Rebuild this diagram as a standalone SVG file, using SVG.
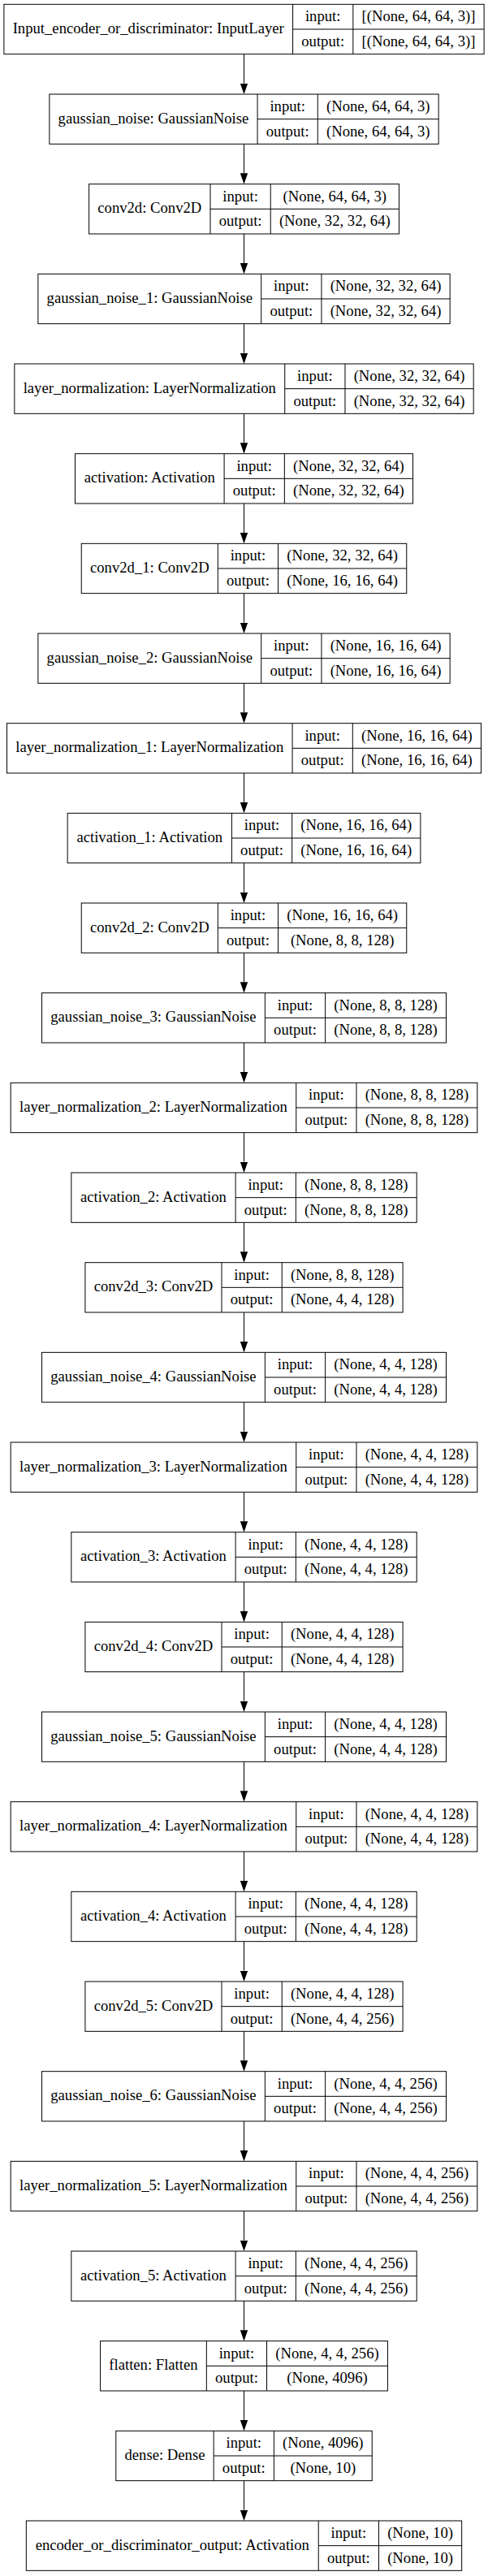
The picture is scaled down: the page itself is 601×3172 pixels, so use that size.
<svg xmlns="http://www.w3.org/2000/svg" width="601" height="3172" viewBox="0 0 601 3172">
<style>
.b rect{fill:#fff;stroke:#000;stroke-width:1}
.b path{fill:none;stroke:#000;stroke-width:1}
.b text{font-family:"Liberation Serif","Times New Roman",serif;font-size:18.67px;text-anchor:middle;fill:#000}
.b .l{transform:translateY(35.6px)}
#edges path{fill:none;stroke:#000;stroke-width:1;marker-end:url(#ah)}
</style>
<defs>
<marker id="ah" markerUnits="userSpaceOnUse" markerWidth="13.33" markerHeight="9.34" viewBox="0 0 13.33 9.34" refX="0" refY="4.67" orient="auto">
<path d="M0,0 L13.33,4.67 L0,9.34 Z" fill="#000"/>
</marker>
</defs>
<rect width="601" height="3172" fill="#fff"/>

<g id="edges">
<path d="M300.5,66.66V102.67"/>
<path d="M300.5,177.33V213.34"/>
<path d="M300.5,288V324"/>
<path d="M300.5,398.66V434.67"/>
<path d="M300.5,509.33V545.34"/>
<path d="M300.5,620V656"/>
<path d="M300.5,730.66V766.67"/>
<path d="M300.5,841.33V877.34"/>
<path d="M300.5,952V988"/>
<path d="M300.5,1062.66V1098.67"/>
<path d="M300.5,1173.33V1209.34"/>
<path d="M300.5,1284V1320"/>
<path d="M300.5,1394.66V1430.67"/>
<path d="M300.5,1505.33V1541.34"/>
<path d="M300.5,1616V1652"/>
<path d="M300.5,1726.66V1762.67"/>
<path d="M300.5,1837.33V1873.34"/>
<path d="M300.5,1948V1984"/>
<path d="M300.5,2058.66V2094.67"/>
<path d="M300.5,2169.33V2205.34"/>
<path d="M300.5,2280V2316"/>
<path d="M300.5,2390.66V2426.67"/>
<path d="M300.5,2501.33V2537.34"/>
<path d="M300.5,2612V2648"/>
<path d="M300.5,2722.66V2758.67"/>
<path d="M300.5,2833.33V2869.34"/>
<path d="M300.5,2944V2980"/>
<path d="M300.5,3054.66V3090.67"/>
</g>

<g id="node0" class="b" transform="translate(0,5.33)">
<rect x="4.88" y="0" width="591.24" height="61.33"/>
<path d="M360.59,0V61.33M434.82,0V61.33M360.59,30.67H596.12"/>
<text x="182.74" y="35.6">Input_encoder_or_discriminator: InputLayer</text>
<text x="397.71" y="21">input:</text><text x="397.71" y="51.8">output:</text>
<text x="515.47" y="21">[(None, 64, 64, 3)]</text><text x="515.47" y="51.8">[(None, 64, 64, 3)]</text>
</g>

<g id="node1" class="b" transform="translate(0,116)">
<rect x="60.86" y="0" width="479.28" height="61.33"/>
<path d="M317.05,0V61.33M391.28,0V61.33M317.05,30.67H540.14"/>
<text x="188.96" y="35.6">gaussian_noise: GaussianNoise</text>
<text x="354.17" y="21">input:</text><text x="354.17" y="51.8">output:</text>
<text x="465.71" y="21">(None, 64, 64, 3)</text><text x="465.71" y="51.8">(None, 64, 64, 3)</text>
</g>

<g id="node2" class="b" transform="translate(0,226.67)">
<rect x="109.59" y="0" width="381.83" height="61.33"/>
<path d="M258.99,0V61.33M333.22,0V61.33M258.99,30.67H491.42"/>
<text x="184.29" y="35.6">conv2d: Conv2D</text>
<text x="296.11" y="21">input:</text><text x="296.11" y="51.8">output:</text>
<text x="412.32" y="21">(None, 64, 64, 3)</text><text x="412.32" y="51.8">(None, 32, 32, 64)</text>
</g>

<g id="node3" class="b" transform="translate(0,337.33)">
<rect x="46.86" y="0" width="507.29" height="61.33"/>
<path d="M321.72,0V61.33M395.95,0V61.33M321.72,30.67H554.15"/>
<text x="184.29" y="35.6">gaussian_noise_1: GaussianNoise</text>
<text x="358.84" y="21">input:</text><text x="358.84" y="51.8">output:</text>
<text x="475.05" y="21">(None, 32, 32, 64)</text><text x="475.05" y="51.8">(None, 32, 32, 64)</text>
</g>

<g id="node4" class="b" transform="translate(0,448)">
<rect x="17.84" y="0" width="565.33" height="61.33"/>
<path d="M350.74,0V61.33M424.97,0V61.33M350.74,30.67H583.17"/>
<text x="184.29" y="35.6">layer_normalization: LayerNormalization</text>
<text x="387.86" y="21">input:</text><text x="387.86" y="51.8">output:</text>
<text x="504.07" y="21">(None, 32, 32, 64)</text><text x="504.07" y="51.8">(None, 32, 32, 64)</text>
</g>

<g id="node5" class="b" transform="translate(0,558.67)">
<rect x="92.48" y="0" width="416.05" height="61.33"/>
<path d="M276.1,0V61.33M350.33,0V61.33M276.1,30.67H508.53"/>
<text x="184.29" y="35.6">activation: Activation</text>
<text x="313.22" y="21">input:</text><text x="313.22" y="51.8">output:</text>
<text x="429.43" y="21">(None, 32, 32, 64)</text><text x="429.43" y="51.8">(None, 32, 32, 64)</text>
</g>

<g id="node6" class="b" transform="translate(0,669.33)">
<rect x="100.25" y="0" width="400.5" height="61.33"/>
<path d="M268.32,0V61.33M342.55,0V61.33M268.32,30.67H500.75"/>
<text x="184.29" y="35.6">conv2d_1: Conv2D</text>
<text x="305.44" y="21">input:</text><text x="305.44" y="51.8">output:</text>
<text x="421.65" y="21">(None, 32, 32, 64)</text><text x="421.65" y="51.8">(None, 16, 16, 64)</text>
</g>

<g id="node7" class="b" transform="translate(0,780)">
<rect x="46.86" y="0" width="507.29" height="61.33"/>
<path d="M321.72,0V61.33M395.95,0V61.33M321.72,30.67H554.15"/>
<text x="184.29" y="35.6">gaussian_noise_2: GaussianNoise</text>
<text x="358.84" y="21">input:</text><text x="358.84" y="51.8">output:</text>
<text x="475.05" y="21">(None, 16, 16, 64)</text><text x="475.05" y="51.8">(None, 16, 16, 64)</text>
</g>

<g id="node8" class="b" transform="translate(0,890.67)">
<rect x="8.51" y="0" width="583.99" height="61.33"/>
<path d="M360.07,0V61.33M434.3,0V61.33M360.07,30.67H592.5"/>
<text x="184.29" y="35.6">layer_normalization_1: LayerNormalization</text>
<text x="397.19" y="21">input:</text><text x="397.19" y="51.8">output:</text>
<text x="513.4" y="21">(None, 16, 16, 64)</text><text x="513.4" y="51.8">(None, 16, 16, 64)</text>
</g>

<g id="node9" class="b" transform="translate(0,1001.33)">
<rect x="83.15" y="0" width="434.71" height="61.33"/>
<path d="M285.43,0V61.33M359.66,0V61.33M285.43,30.67H517.86"/>
<text x="184.29" y="35.6">activation_1: Activation</text>
<text x="322.55" y="21">input:</text><text x="322.55" y="51.8">output:</text>
<text x="438.76" y="21">(None, 16, 16, 64)</text><text x="438.76" y="51.8">(None, 16, 16, 64)</text>
</g>

<g id="node10" class="b" transform="translate(0,1112)">
<rect x="100.25" y="0" width="400.5" height="61.33"/>
<path d="M268.32,0V61.33M342.55,0V61.33M268.32,30.67H500.75"/>
<text x="184.29" y="35.6">conv2d_2: Conv2D</text>
<text x="305.44" y="21">input:</text><text x="305.44" y="51.8">output:</text>
<text x="421.65" y="21">(None, 16, 16, 64)</text><text x="421.65" y="51.8">(None, 8, 8, 128)</text>
</g>

<g id="node11" class="b" transform="translate(0,1222.67)">
<rect x="51.53" y="0" width="497.95" height="61.33"/>
<path d="M326.39,0V61.33M400.62,0V61.33M326.39,30.67H549.48"/>
<text x="188.96" y="35.6">gaussian_noise_3: GaussianNoise</text>
<text x="363.51" y="21">input:</text><text x="363.51" y="51.8">output:</text>
<text x="475.05" y="21">(None, 8, 8, 128)</text><text x="475.05" y="51.8">(None, 8, 8, 128)</text>
</g>

<g id="node12" class="b" transform="translate(0,1333.33)">
<rect x="13.18" y="0" width="574.65" height="61.33"/>
<path d="M364.74,0V61.33M438.97,0V61.33M364.74,30.67H587.83"/>
<text x="188.96" y="35.6">layer_normalization_2: LayerNormalization</text>
<text x="401.86" y="21">input:</text><text x="401.86" y="51.8">output:</text>
<text x="513.4" y="21">(None, 8, 8, 128)</text><text x="513.4" y="51.8">(None, 8, 8, 128)</text>
</g>

<g id="node13" class="b" transform="translate(0,1444)">
<rect x="87.82" y="0" width="425.37" height="61.33"/>
<path d="M290.1,0V61.33M364.33,0V61.33M290.1,30.67H513.19"/>
<text x="188.96" y="35.6">activation_2: Activation</text>
<text x="327.22" y="21">input:</text><text x="327.22" y="51.8">output:</text>
<text x="438.76" y="21">(None, 8, 8, 128)</text><text x="438.76" y="51.8">(None, 8, 8, 128)</text>
</g>

<g id="node14" class="b" transform="translate(0,1554.67)">
<rect x="104.92" y="0" width="391.16" height="61.33"/>
<path d="M272.99,0V61.33M347.22,0V61.33M272.99,30.67H496.08"/>
<text x="188.96" y="35.6">conv2d_3: Conv2D</text>
<text x="310.11" y="21">input:</text><text x="310.11" y="51.8">output:</text>
<text x="421.65" y="21">(None, 8, 8, 128)</text><text x="421.65" y="51.8">(None, 4, 4, 128)</text>
</g>

<g id="node15" class="b" transform="translate(0,1665.33)">
<rect x="51.53" y="0" width="497.95" height="61.33"/>
<path d="M326.39,0V61.33M400.62,0V61.33M326.39,30.67H549.48"/>
<text x="188.96" y="35.6">gaussian_noise_4: GaussianNoise</text>
<text x="363.51" y="21">input:</text><text x="363.51" y="51.8">output:</text>
<text x="475.05" y="21">(None, 4, 4, 128)</text><text x="475.05" y="51.8">(None, 4, 4, 128)</text>
</g>

<g id="node16" class="b" transform="translate(0,1776)">
<rect x="13.18" y="0" width="574.65" height="61.33"/>
<path d="M364.74,0V61.33M438.97,0V61.33M364.74,30.67H587.83"/>
<text x="188.96" y="35.6">layer_normalization_3: LayerNormalization</text>
<text x="401.86" y="21">input:</text><text x="401.86" y="51.8">output:</text>
<text x="513.4" y="21">(None, 4, 4, 128)</text><text x="513.4" y="51.8">(None, 4, 4, 128)</text>
</g>

<g id="node17" class="b" transform="translate(0,1886.67)">
<rect x="87.82" y="0" width="425.37" height="61.33"/>
<path d="M290.1,0V61.33M364.33,0V61.33M290.1,30.67H513.19"/>
<text x="188.96" y="35.6">activation_3: Activation</text>
<text x="327.22" y="21">input:</text><text x="327.22" y="51.8">output:</text>
<text x="438.76" y="21">(None, 4, 4, 128)</text><text x="438.76" y="51.8">(None, 4, 4, 128)</text>
</g>

<g id="node18" class="b" transform="translate(0,1997.33)">
<rect x="104.92" y="0" width="391.16" height="61.33"/>
<path d="M272.99,0V61.33M347.22,0V61.33M272.99,30.67H496.08"/>
<text x="188.96" y="35.6">conv2d_4: Conv2D</text>
<text x="310.11" y="21">input:</text><text x="310.11" y="51.8">output:</text>
<text x="421.65" y="21">(None, 4, 4, 128)</text><text x="421.65" y="51.8">(None, 4, 4, 128)</text>
</g>

<g id="node19" class="b" transform="translate(0,2108)">
<rect x="51.53" y="0" width="497.95" height="61.33"/>
<path d="M326.39,0V61.33M400.62,0V61.33M326.39,30.67H549.48"/>
<text x="188.96" y="35.6">gaussian_noise_5: GaussianNoise</text>
<text x="363.51" y="21">input:</text><text x="363.51" y="51.8">output:</text>
<text x="475.05" y="21">(None, 4, 4, 128)</text><text x="475.05" y="51.8">(None, 4, 4, 128)</text>
</g>

<g id="node20" class="b" transform="translate(0,2218.67)">
<rect x="13.18" y="0" width="574.65" height="61.33"/>
<path d="M364.74,0V61.33M438.97,0V61.33M364.74,30.67H587.83"/>
<text x="188.96" y="35.6">layer_normalization_4: LayerNormalization</text>
<text x="401.86" y="21">input:</text><text x="401.86" y="51.8">output:</text>
<text x="513.4" y="21">(None, 4, 4, 128)</text><text x="513.4" y="51.8">(None, 4, 4, 128)</text>
</g>

<g id="node21" class="b" transform="translate(0,2329.33)">
<rect x="87.82" y="0" width="425.37" height="61.33"/>
<path d="M290.1,0V61.33M364.33,0V61.33M290.1,30.67H513.19"/>
<text x="188.96" y="35.6">activation_4: Activation</text>
<text x="327.22" y="21">input:</text><text x="327.22" y="51.8">output:</text>
<text x="438.76" y="21">(None, 4, 4, 128)</text><text x="438.76" y="51.8">(None, 4, 4, 128)</text>
</g>

<g id="node22" class="b" transform="translate(0,2440)">
<rect x="104.92" y="0" width="391.16" height="61.33"/>
<path d="M272.99,0V61.33M347.22,0V61.33M272.99,30.67H496.08"/>
<text x="188.96" y="35.6">conv2d_5: Conv2D</text>
<text x="310.11" y="21">input:</text><text x="310.11" y="51.8">output:</text>
<text x="421.65" y="21">(None, 4, 4, 128)</text><text x="421.65" y="51.8">(None, 4, 4, 256)</text>
</g>

<g id="node23" class="b" transform="translate(0,2550.67)">
<rect x="51.53" y="0" width="497.95" height="61.33"/>
<path d="M326.39,0V61.33M400.62,0V61.33M326.39,30.67H549.48"/>
<text x="188.96" y="35.6">gaussian_noise_6: GaussianNoise</text>
<text x="363.51" y="21">input:</text><text x="363.51" y="51.8">output:</text>
<text x="475.05" y="21">(None, 4, 4, 256)</text><text x="475.05" y="51.8">(None, 4, 4, 256)</text>
</g>

<g id="node24" class="b" transform="translate(0,2661.33)">
<rect x="13.18" y="0" width="574.65" height="61.33"/>
<path d="M364.74,0V61.33M438.97,0V61.33M364.74,30.67H587.83"/>
<text x="188.96" y="35.6">layer_normalization_5: LayerNormalization</text>
<text x="401.86" y="21">input:</text><text x="401.86" y="51.8">output:</text>
<text x="513.4" y="21">(None, 4, 4, 256)</text><text x="513.4" y="51.8">(None, 4, 4, 256)</text>
</g>

<g id="node25" class="b" transform="translate(0,2772)">
<rect x="87.82" y="0" width="425.37" height="61.33"/>
<path d="M290.1,0V61.33M364.33,0V61.33M290.1,30.67H513.19"/>
<text x="188.96" y="35.6">activation_5: Activation</text>
<text x="327.22" y="21">input:</text><text x="327.22" y="51.8">output:</text>
<text x="438.76" y="21">(None, 4, 4, 256)</text><text x="438.76" y="51.8">(None, 4, 4, 256)</text>
</g>

<g id="node26" class="b" transform="translate(0,2882.67)">
<rect x="123.59" y="0" width="353.83" height="61.33"/>
<path d="M254.33,0V61.33M328.56,0V61.33M254.33,30.67H477.42"/>
<text x="188.96" y="35.6">flatten: Flatten</text>
<text x="291.45" y="21">input:</text><text x="291.45" y="51.8">output:</text>
<text x="402.99" y="21">(None, 4, 4, 256)</text><text x="402.99" y="51.8">(None, 4096)</text>
</g>

<g id="node27" class="b" transform="translate(0,2993.33)">
<rect x="142.79" y="0" width="315.43" height="61.33"/>
<path d="M263.13,0V61.33M337.36,0V61.33M263.13,30.67H458.22"/>
<text x="202.96" y="35.6">dense: Dense</text>
<text x="300.25" y="21">input:</text><text x="300.25" y="51.8">output:</text>
<text x="397.79" y="21">(None, 4096)</text><text x="397.79" y="51.8">(None, 10)</text>
</g>

<g id="node28" class="b" transform="translate(0,3104)">
<rect x="32.34" y="0" width="536.32" height="61.33"/>
<path d="M392.23,0V61.33M466.46,0V61.33M392.23,30.67H568.66"/>
<text x="212.29" y="35.6">encoder_or_discriminator_output: Activation</text>
<text x="429.35" y="21">input:</text><text x="429.35" y="51.8">output:</text>
<text x="517.56" y="21">(None, 10)</text><text x="517.56" y="51.8">(None, 10)</text>
</g>
</svg>
